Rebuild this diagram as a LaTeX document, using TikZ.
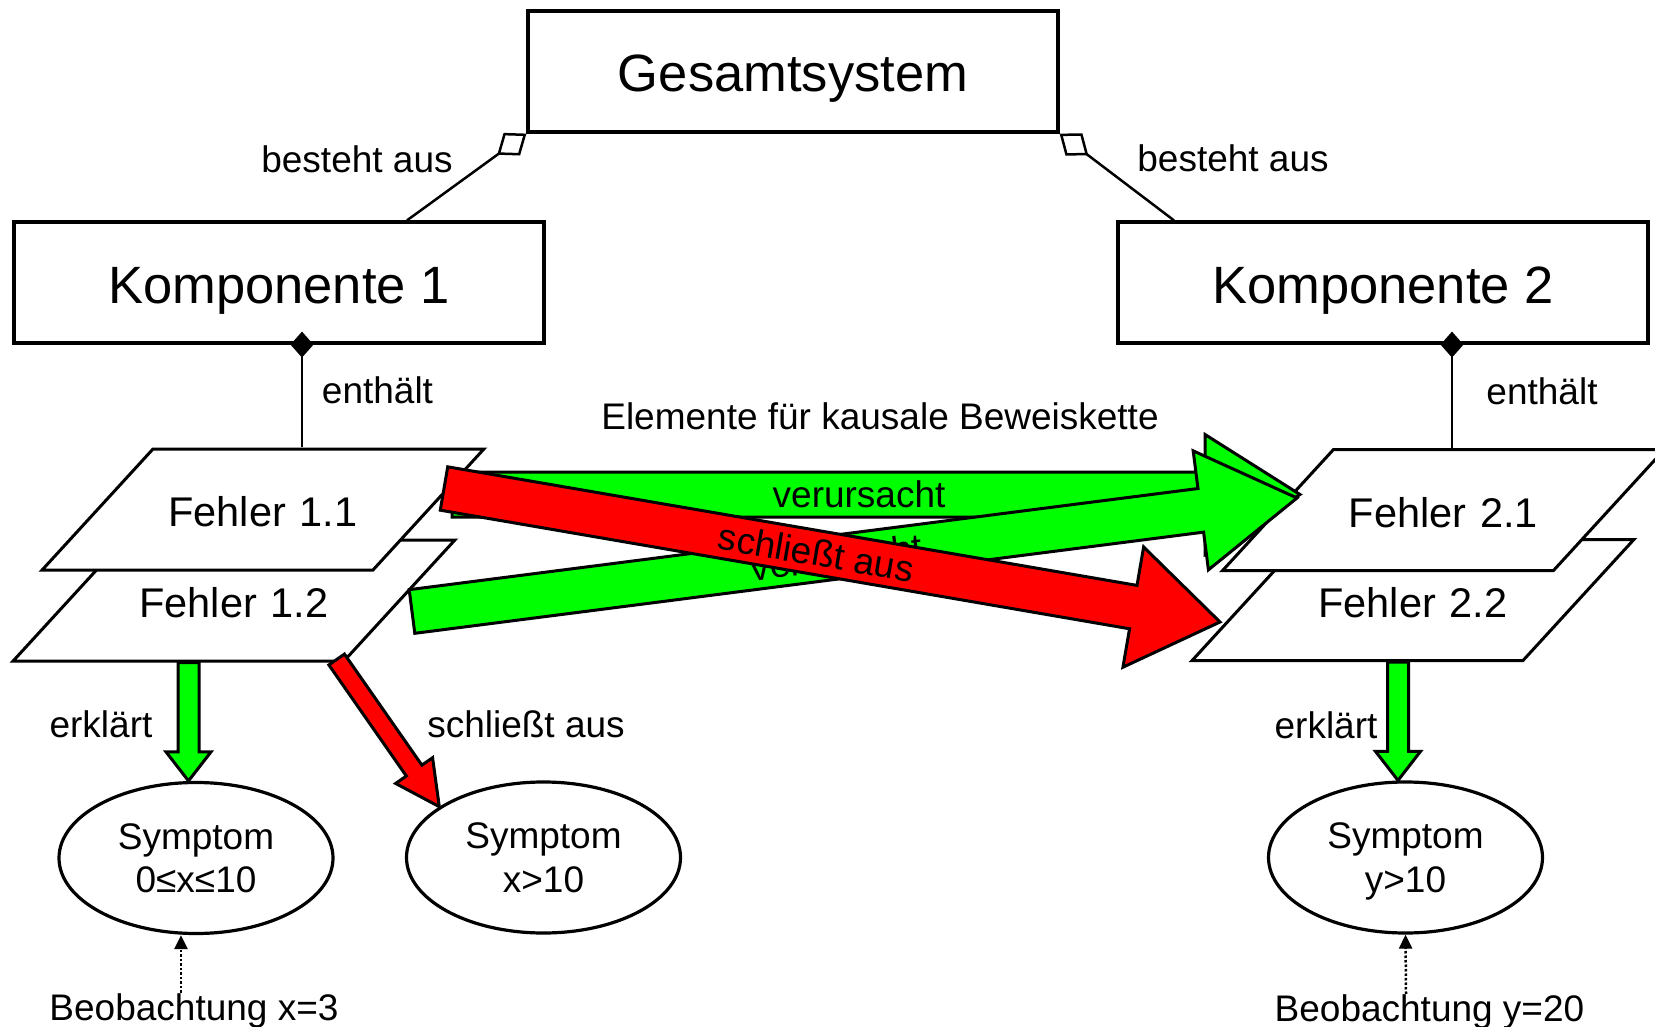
\documentclass[tikz,border=0pt]{standalone}
\usepackage{fontspec}
\setmainfont{Liberation Sans}
\usetikzlibrary{arrows.meta,calc,shapes.geometric}
\newcommand{\blockpfeil}[6]{%
  \coordinate (hb) at ($(#3)!#6!(#2)$);
  \draw[fill=#1,line width=3pt,line join=miter]
    ($(#2)!#4!90:(#3)$) -- ($(hb)!#4!-90:(#2)$) -- ($(hb)!#5!-90:(#2)$) -- (#3)
    -- ($(hb)!#5!90:(#2)$) -- ($(hb)!#4!90:(#2)$) -- ($(#2)!#4!-90:(#3)$) -- cycle;}

\begin{document}
\begin{tikzpicture}[x=1pt,y=-1pt,
  kasten/.style={draw,line width=3.2pt,minimum width=530pt,minimum height=121pt,inner sep=0pt,
    text height=41pt,text depth=0pt,font=\fontsize{52.5}{60}\selectfont},
  fehler/.style={trapezium,trapezium left angle=47.5,trapezium right angle=132.5,
    draw,fill=white,line width=3pt,inner xsep=15pt,inner ysep=43.3pt,text width=190pt,align=center,
    text height=34.4pt,text depth=0pt,font=\fontsize{41.5}{48}\selectfont},
  symptom/.style={ellipse,draw,line width=3.2pt,minimum width=274pt,minimum height=151pt,inner sep=0pt,
    align=center,text depth=0pt,font=\fontsize{37}{43.7}\selectfont},
  beschr/.style={inner sep=0pt,anchor=base,font=\fontsize{37}{43}\selectfont},
  pfeiltext/.style={inner sep=0pt,font=\fontsize{37}{43}\selectfont},
  besteht/.style={line width=2.5pt,-{Diamond[open,length=36pt,width=28pt]}},
  enthaelt/.style={line width=2.5pt,-{Diamond[length=26pt,width=23pt]}},
  beob/.style={line width=2.5pt,dotted,-{Triangle[length=14pt,width=13pt]}}]
\useasboundingbox (0,0) rectangle (1655,1027);
\clip (0,0) rectangle (1655,1027);

\node[kasten] (ges) at (793,71.5) {Gesamtsystem};
\node[kasten] (k1) at (279,282.5) {Komponente 1};
\node[kasten] (k2) at (1383,282.5) {Komponente 2};

\node[beschr] (bes1) at (357,173) {besteht aus};
\node[beschr] (bes2) at (1233,172) {besteht aus};
\node[beschr] (ent1) at (377.5,403) {enthält};
\node[beschr] (ent2) at (1542,404) {enthält};
\node[beschr] (elem) at (880,429) {Elemente für kausale Beweiskette};
\node[beschr] (erk1) at (101,737) {erklärt};
\node[beschr] (sch1) at (526,737) {schließt aus};
\node[beschr] (erk2) at (1326,738) {erklärt};
\node[beschr] (obs1) at (194,1020) {Beobachtung x=3};
\node[beschr] (obs2) at (1429.5,1021) {Beobachtung y=20};

\draw[besteht] ($(k1.north west)!0.74!(k1.north east)$) -- (ges.south west);
\draw[besteht] ($(k2.north west)!0.108!(k2.north east)$) -- (ges.south east);

\node[fehler] (f12) at (234,600.5) {Fehler 1.2};
\node[fehler] (f11) at (263,509.5) {Fehler 1.1};
\node[fehler] (f22) at (1413,600) {Fehler 2.2};
\node[fehler] (f21) at (1443.5,510) {Fehler 2.1};

\coordinate (d1) at ([shift={(23pt,13pt)}]k1.south);
\coordinate (d2) at ([shift={(69pt,13pt)}]k2.south);
\draw[enthaelt] (f11.north -| d1) -- (d1);
\draw[enthaelt] (f21.north -| d2) -- (d2);

\node[symptom] (sym1) at (196,858) {Symptom\\0≤x≤10};
\node[symptom] (sym2) at (543.5,857.5) {Symptom\\x>10};
\node[symptom] (sym3) at (1405.5,857.5) {Symptom\\y>10};

\draw[beob] ([xshift=-13pt]obs1.north) -- ([xshift=-15pt]sym1.south);
\draw[beob] ([xshift=-23.5pt]obs2.north) -- (sym3.south);

\coordinate (eb1) at ([xshift=-7.5pt]sym1.north);
\coordinate (ea1) at (eb1 |- f12.south);
\coordinate (eb2) at ([xshift=-7.5pt]sym3.north);
\coordinate (ea2) at (eb2 |- f22.south);
\coordinate (sa1) at ([shift={(-8pt,3pt)}]f12.bottom right corner);
\coordinate (sb1) at (sym2.154);
\blockpfeil{green}{ea1}{eb1}{10.5pt}{22.5pt}{29pt}
\blockpfeil{green}{ea2}{eb2}{10.5pt}{22.5pt}{29pt}
\blockpfeil{red}{sa1}{sb1}{9.5pt}{22.5pt}{44pt}

\coordinate (v1a) at (452,494.5);
\coordinate (v1b) at (1300,494.5);
\coordinate (v2a) at (412,611.5);
\coordinate (v2b) at (1297,498);
\coordinate (s2a) at (444,488.5);
\coordinate (s2b) at (1220,622);
\blockpfeil{green}{v1a}{v1b}{22.5pt}{60pt}{95pt}
\path (v1a) -- (v1b) node[pos=0.48,sloped,pfeiltext] (vt1) {verursacht};
\blockpfeil{green}{v2a}{v2b}{22pt}{60pt}{97pt}
\path (v2a) -- (v2b) node[pos=0.48,sloped,pfeiltext] (vt2) {verursacht};
\blockpfeil{red}{s2a}{s2b}{22pt}{61pt}{88pt}
\path (s2a) -- (s2b) node[pos=0.48,sloped,pfeiltext] (st2) {schließt aus};
\end{tikzpicture}
\end{document}
